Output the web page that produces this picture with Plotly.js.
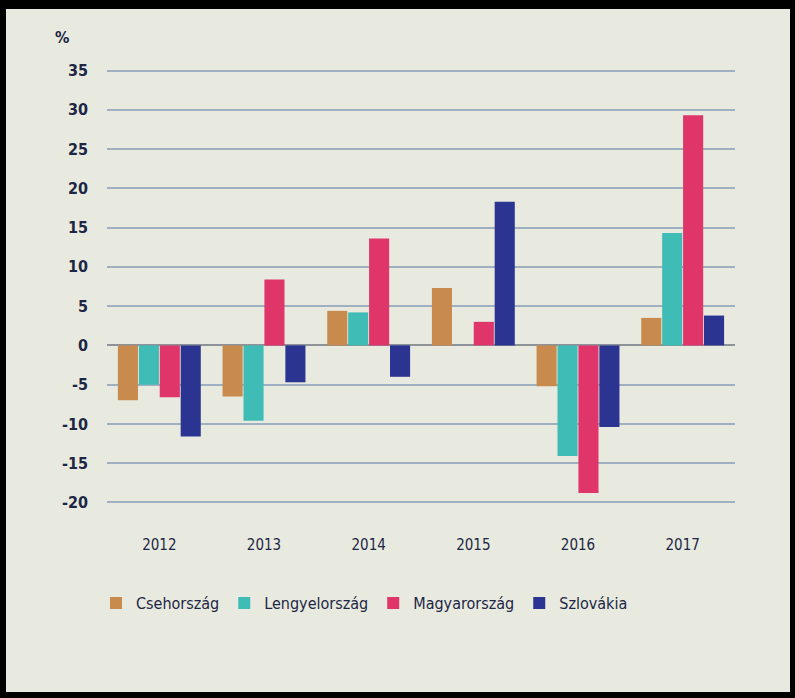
<!DOCTYPE html>
<html>
<head>
<meta charset="utf-8">
<script src="https://cdn.plot.ly/plotly-3.0.1.min.js"></script>
<style>
html,body{margin:0;padding:0;background:#000;width:795px;height:698px;overflow:hidden;}
#chart{position:absolute;left:6px;top:9px;width:784px;height:683px;}
</style>
</head>
<body>
<div id="chart"></div>
<script>
const years = ["2012","2013","2014","2015","2016","2017"];
const seriesNames = ["Csehország","Lengyelország","Magyarország","Szlovákia"];
const cseh = [-7.0, -6.5, 4.4, 7.3, -5.2, 3.5];
const lengyel = [-5.0, -9.6, 4.2, 0, -14.1, 14.3];
const magyar = [-6.6, 8.4, 13.6, 3.0, -18.8, 29.3];
const szlovakia = [-11.6, -4.7, -4.0, 18.3, -10.4, 3.8];
const yTickVals = [-20,-15,-10,-5,0,5,10,15,20,25,30,35];
const yTickText = ["-20","-15","-10","-5","0","5","10","15","20","25","30","35"];

const colors = ["#c98a4e","#3fbcb6","#df3569","#2b3491"];
const values = [cseh, lengyel, magyar, szlovakia];

const traces = values.map((v,i)=>({
  type:'bar', x:years, y:v, name:seriesNames[i],
  marker:{color:colors[i]}
}));

const fam = "'DejaVu Sans Condensed', 'Liberation Sans Narrow', 'Arial Narrow', sans-serif";
const textColor = "#1d2645";
const layout = {
  width:784, height:683,
  paper_bgcolor:"#e8eadf", plot_bgcolor:"#e8eadf",
  margin:{l:101,r:55,t:60,b:188},
  barmode:'group', bargap:0.2, bargroupgap:0.04,
  showlegend:true,
  legend:{orientation:'h', x:0.41, xanchor:'center', y:-0.228, yanchor:'middle',
          font:{family:fam, size:16, color:textColor},
          itemwidth:30, bgcolor:'rgba(0,0,0,0)'},
  xaxis:{type:'category', showgrid:false, zeroline:false, showline:false,
         ticks:'', ticklabelstandoff:30,
         tickfont:{family:fam, size:15, color:textColor}},
  yaxis:{range:[-20.2,35.2], tickvals:yTickVals, ticktext:yTickText,
         showgrid:true, gridcolor:"#9fb0c2", gridwidth:2,
         zeroline:true, zerolinecolor:"#8e9399", zerolinewidth:2,
         showline:false, ticks:'', ticklabelstandoff:18,
         tickfont:{family:fam, size:16, color:textColor, weight:'bold'}},
  annotations:[{text:"<b>%</b>", xref:'paper', yref:'paper', x:-0.072, y:1.072,
                xanchor:'center', yanchor:'middle', showarrow:false,
                font:{family:fam, size:16, color:textColor}}]
};
Plotly.newPlot('chart', traces, layout, {displayModeBar:false, staticPlot:true});
</script>
</body>
</html>
